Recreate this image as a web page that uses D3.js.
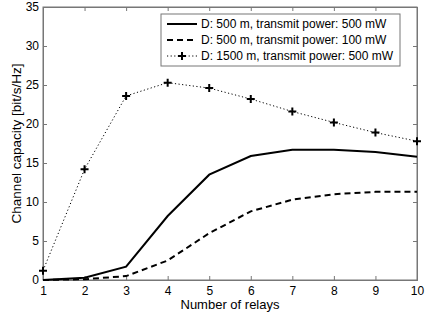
<!DOCTYPE html>
<html><head><meta charset="utf-8">
<script src="https://cdn.jsdelivr.net/npm/d3@7"></script>
<style>body{margin:0;background:#fff}svg{display:block}</style>
</head><body>
<script>
const relays = [1,2,3,4,5,6,7,8,9,10];
const seriesNames = ["D: 500 m, transmit power: 500 mW","D: 500 m, transmit power: 100 mW","D: 1500 m, transmit power: 500 mW"];
const cap500_500 = [0,0.3,1.7,8.2,13.5,15.9,16.7,16.7,16.4,15.8];
const cap500_100 = [0,0.1,0.5,2.5,6.0,8.8,10.3,11.0,11.3,11.3];
const cap1500_500 = [1.2,14.2,23.6,25.3,24.6,23.2,21.6,20.2,18.9,17.8];
const xTicks = [1,2,3,4,5,6,7,8,9,10];
const yTicks = [0,5,10,15,20,25,30,35];

const W=430,H=314;
const m={l:43,r:13,t:7,b:34};
const svg=d3.select("body").append("svg").attr("width",W).attr("height",H);
const x=d3.scaleLinear().domain([1,10]).range([m.l,W-m.r]);
const y=d3.scaleLinear().domain([0,35]).range([H-m.b,m.t]);
const font="Liberation Sans, Arial, sans-serif";
const axisCol="#777";

svg.append("rect").attr("x",x(1)).attr("y",y(35)).attr("width",x(10)-x(1)).attr("height",y(0)-y(35))
  .attr("fill","#fff").attr("stroke",axisCol).attr("stroke-width",1);

const tl=4;
const gx=svg.append("g").attr("transform",`translate(0,${y(0)})`)
  .call(d3.axisBottom(x).tickValues(xTicks).tickSize(-tl).tickPadding(6).tickFormat(d3.format("d")));
const gxt=svg.append("g").attr("transform",`translate(0,${y(35)})`)
  .call(d3.axisTop(x).tickValues(xTicks).tickSize(-tl).tickFormat(""));
const gy=svg.append("g").attr("transform",`translate(${x(1)},0)`)
  .call(d3.axisLeft(y).tickValues(yTicks).tickSize(-tl).tickPadding(4).tickFormat(d3.format("d")));
const gyr=svg.append("g").attr("transform",`translate(${x(10)},0)`)
  .call(d3.axisRight(y).tickValues(yTicks).tickSize(-tl).tickFormat(""));
[gx,gxt,gy,gyr].forEach(g=>{
  g.select(".domain").attr("stroke",axisCol);
  g.selectAll(".tick line").attr("stroke",axisCol);
  g.selectAll("text").attr("fill","#000").style("font-family",font).style("font-size","12px");
});

const line=d3.line().x((d,i)=>x(relays[i])).y(d=>y(d));
const styles=[{dash:null,w:2},{dash:"6,4",w:2},{dash:"1.2,2.4",w:1}];
const data=[cap500_500,cap500_100,cap1500_500];
data.forEach((s,k)=>{
  svg.append("path").datum(s).attr("d",line).attr("fill","none").attr("stroke","#000")
    .attr("stroke-width",styles[k].w).attr("stroke-dasharray",styles[k].dash);
});
function plus(g,cx,cy){
  g.append("path").attr("d",`M${cx-4},${cy}H${cx+4}M${cx},${cy-4}V${cy+4}`).attr("stroke","#000").attr("stroke-width",2);
}
cap1500_500.forEach((v,i)=>plus(svg,x(relays[i]),y(v)));

// legend
const lg=svg.append("g");
lg.append("rect").attr("x",161).attr("y",14).attr("width",239).attr("height",52).attr("fill","#fff").attr("stroke",axisCol);
const ly=[24,40,56];
seriesNames.forEach((n,k)=>{
  lg.append("line").attr("x1",167).attr("x2",197).attr("y1",ly[k]).attr("y2",ly[k]).attr("stroke","#000")
    .attr("stroke-width",styles[k].w).attr("stroke-dasharray",styles[k].dash);
  if(k===2) plus(lg,182,ly[k]);
  lg.append("text").attr("x",201).attr("y",ly[k]).attr("dy","0.35em").text(n)
    .style("font-family",font).style("font-size","12px");
});

svg.append("text").attr("x",(x(1)+x(10))/2).attr("y",309).attr("text-anchor","middle")
  .text("Number of relays").style("font-family",font).style("font-size","13px");
svg.append("text").attr("transform",`translate(21,${(y(0)+y(35))/2}) rotate(-90)`).attr("text-anchor","middle")
  .text("Channel capacity [bit/s/Hz]").style("font-family",font).style("font-size","13.5px");
</script>
</body></html>
